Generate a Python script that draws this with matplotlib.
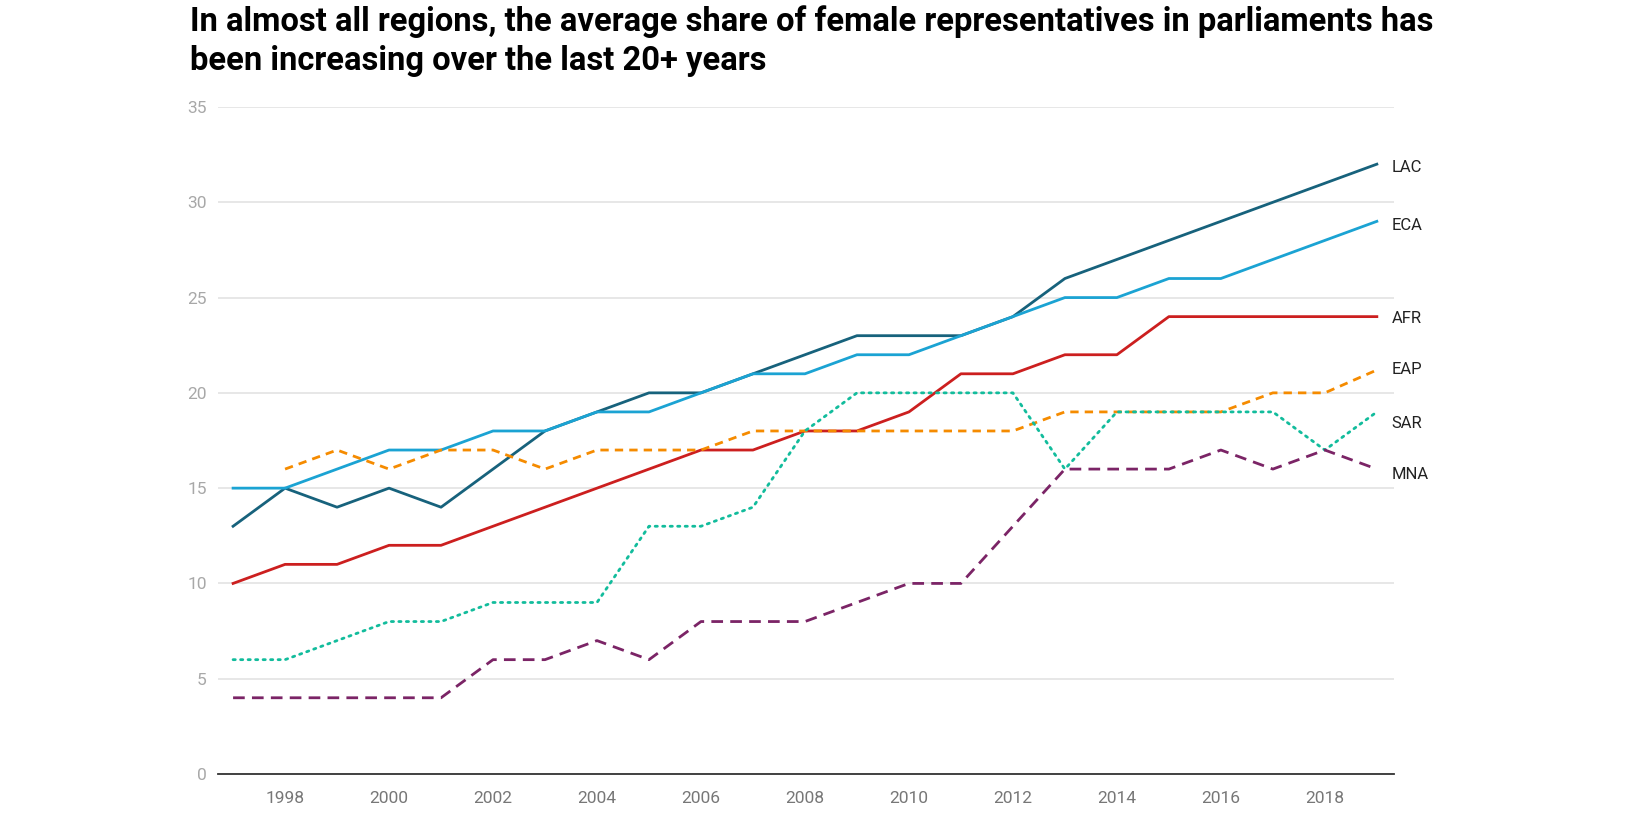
import matplotlib
matplotlib.use("Agg")
import numpy as np
from matplotlib import pyplot as plt

years = list(range(1997, 2020))

lac = [13, 15, 14, 15, 14, 16, 18, 19, 20, 20, 21, 22, 23, 23, 23, 24, 26, 27, 28, 29, 30, 31, 32]
eca = [15, 15, 16, 17, 17, 18, 18, 19, 19, 20, 21, 21, 22, 22, 23, 24, 25, 25, 26, 26, 27, 28, 29]
afr = [10, 11, 11, 12, 12, 13, 14, 15, 16, 17, 17, 18, 18, 19, 21, 21, 22, 22, 24, 24, 24, 24, 24]
eap = [np.nan, 16, 17, 16, 17, 17, 16, 17, 17, 17, 18, 18, 18, 18, 18, 18, 19, 19, 19, 19, 20, 20, 21.2]
sar = [6, 6, 7, 8, 8, 9, 9, 9, 13, 13, 14, 18, 20, 20, 20, 20, 16, 19, 19, 19, 19, 17, 19]
mna = [4, 4, 4, 4, 4, 6, 6, 7, 6, 8, 8, 8, 9, 10, 10, 13, 16, 16, 16, 17, 16, 17, 16]

# end label names and where they sit (value units)
names = ["LAC", "ECA", "AFR", "EAP", "SAR", "MNA"]
label_y = [31.85, 28.8, 23.9, 21.2, 18.4, 15.7]

title = ("In almost all regions, the average share of female representatives in parliaments has\n"
         "been increasing over the last 20+ years")

fig = plt.figure(figsize=(16.32, 8.16), dpi=100)
ax = fig.add_axes([218 / 1632, 1 - 774 / 816, (1394 - 218) / 1632, (774 - 107) / 816])

series = [lac, eca, afr, eap, sar, mna]
colors = ["#17627c", "#1ba3d3", "#cc1f1f", "#f58b00", "#12bc9c", "#7b2466"]
styles = ["-", "-", "-", (0, (3, 2.2)), (0, (0.8, 1.9)), (0, (4.2, 2.6))]

for vals, c, ls in zip(series, colors, styles):
    ax.plot(years, vals, color=c, lw=2.0, linestyle=ls, zorder=3,
            dash_capstyle="butt" if ls != styles[4] else "round")

for n, y in zip(names, label_y):
    ax.text(2019.28, y, n, fontsize=12, color="#222222", va="center", ha="left",
            family="Roboto")

ax.set_xlim(1996.71, 2019.33)
ax.set_ylim(0, 35)
ax.set_yticks(range(0, 36, 5))
ax.set_xticks(range(1998, 2019, 2))
ax.grid(axis="y", color="#e3e3e3", lw=1.2)
ax.set_axisbelow(True)
for s in ["top", "right", "left"]:
    ax.spines[s].set_visible(False)
ax.spines["bottom"].set_color("#333333")
ax.spines["bottom"].set_linewidth(1.3)
ax.tick_params(axis="both", length=0)
ax.tick_params(axis="y", pad=8, labelcolor="#a8a8a8", labelsize=12.5)
ax.tick_params(axis="x", pad=12, labelcolor="#777777", labelsize=12.5)
for t in ax.get_xticklabels() + ax.get_yticklabels():
    t.set_family("Roboto")

fig.text(190 / 1632, 1 - 5 / 816, title, fontsize=23.6, fontweight="bold", family="Roboto",
         va="top", ha="left", linespacing=1.3, color="#000000")

fig.savefig("out.png", dpi=100, facecolor="white")
